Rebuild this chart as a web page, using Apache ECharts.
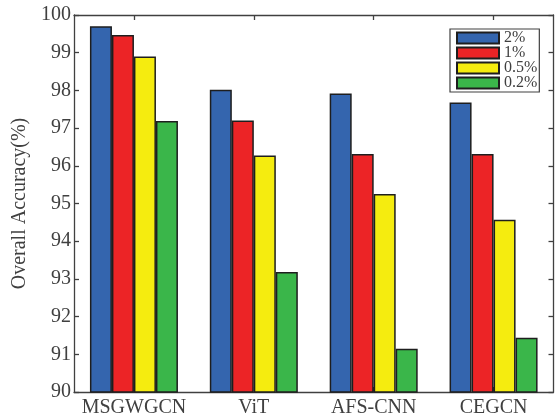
<!DOCTYPE html>
<html>
<head>
<meta charset="utf-8">
<script src="https://cdn.jsdelivr.net/npm/echarts@6/dist/echarts.min.js"></script>
<style>
html,body{margin:0;padding:0;background:#fff;}
#chart{width:557px;height:419px;}
</style>
</head>
<body>
<div id="chart"></div>
<script>
var categories = ['MSGWGCN', 'ViT', 'AFS-CNN', 'CEGCN'];
var seriesNames = ['2%', '1%', '0.5%', '0.2%'];
var values2 = [99.70, 98.02, 97.92, 97.68];
var values1 = [99.47, 97.20, 96.31, 96.31];
var values05 = [98.90, 96.27, 95.25, 94.57];
var values02 = [97.19, 93.18, 91.15, 91.44];
var yTicks = [90, 91, 92, 93, 94, 95, 96, 97, 98, 99, 100];

var colors = ['#3465ae', '#ec2426', '#f5ec0f', '#3ab64a'];
var allValues = [values2, values1, values05, values02];
var FONT = "'Liberation Serif', 'Times New Roman', serif";
var AX = '#404040';

var chart = echarts.init(document.getElementById('chart'), null, {renderer: 'canvas'});

var series = seriesNames.map(function (n, i) {
  return {
    name: n,
    type: 'bar',
    xAxisIndex: 0,
    yAxisIndex: 0,
    data: allValues[i],
    barWidth: 22,
    barGap: '0%',
    itemStyle: {color: colors[i], borderColor: '#1e1e1e', borderWidth: 1.5},
    emphasis: {disabled: true},
    animation: false
  };
});

var axisLine = {show: true, onZero: false, lineStyle: {color: AX, width: 1.3}};

chart.setOption({
  animation: false,
  grid: {left: 74, top: 15, right: 3.5, bottom: 27, containLabel: false},
  legend: {
    orient: 'vertical',
    left: 450,
    top: 29,
    icon: 'rect',
    itemWidth: 42,
    itemHeight: 11,
    itemGap: -1,
    padding: [1, 2, 1, 6],
    borderColor: AX,
    borderWidth: 1.2,
    backgroundColor: '#fff',
    textStyle: {fontFamily: FONT, fontSize: 16, color: AX},
    data: seriesNames
  },
  xAxis: [{
    type: 'category',
    data: categories,
    position: 'bottom',
    boundaryGap: true,
    axisLine: axisLine,
    axisTick: {show: true, inside: true, length: 5, alignWithLabel: true, lineStyle: {color: AX, width: 1.3}},
    axisLabel: {fontFamily: FONT, fontSize: 20, color: AX, margin: 6, interval: 0},
    splitLine: {show: false}
  }, {
    type: 'category',
    data: categories,
    position: 'top',
    boundaryGap: true,
    axisLine: axisLine,
    axisTick: {show: true, inside: true, length: 5, alignWithLabel: true, interval: 0, lineStyle: {color: AX, width: 1.3}},
    axisLabel: {show: false},
    splitLine: {show: false}
  }],
  yAxis: [{
    type: 'value',
    min: 90,
    max: 100,
    interval: 1,
    position: 'left',
    axisLine: axisLine,
    axisTick: {show: true, inside: true, length: 5, lineStyle: {color: AX, width: 1.3}},
    axisLabel: {fontFamily: FONT, fontSize: 20, color: AX, margin: 3,
      formatter: function (v) { return yTicks.indexOf(v) >= 0 ? String(v) : ''; }},
    splitLine: {show: false},
    name: 'Overall Accuracy(%)',
    nameLocation: 'middle',
    nameGap: 33,
    nameTextStyle: {fontFamily: FONT, fontSize: 20, color: AX}
  }, {
    type: 'value',
    min: 90,
    max: 100,
    interval: 1,
    position: 'right',
    axisLine: axisLine,
    axisTick: {show: true, inside: true, length: 5, lineStyle: {color: AX, width: 1.3}},
    axisLabel: {show: false},
    splitLine: {show: false}
  }],
  series: series
});
</script>
</body>
</html>
